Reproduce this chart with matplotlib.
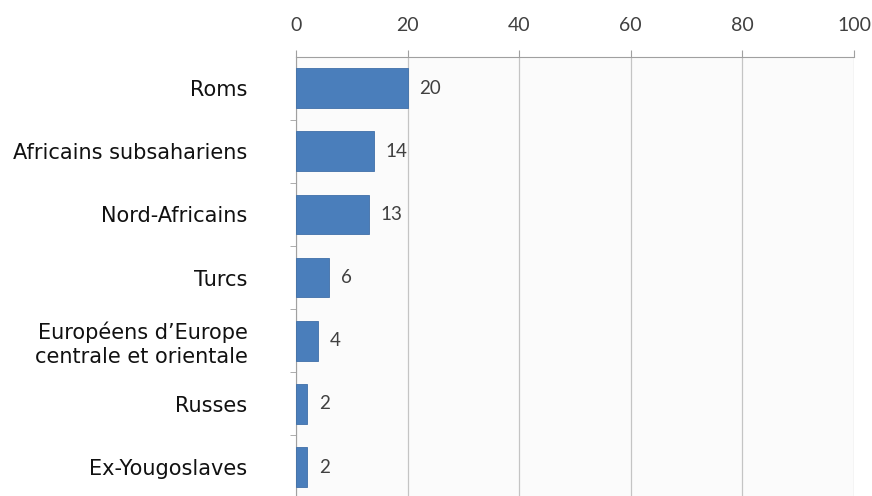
import matplotlib.pyplot as plt
import numpy as np

categories = ["Roms", "Africains subsahariens", "Nord-Africains", "Turcs",
              "Européens d’Europe\ncentrale et orientale", "Russes", "Ex-Yougoslaves"]
values = [20, 14, 13, 6, 4, 2, 2]
xticks = [0, 20, 40, 60, 80, 100]

fig = plt.figure(figsize=(8.72, 4.96), dpi=100)
ax = fig.add_axes([296 / 872, -2.6 / 496, 558 / 872, 442 / 496])
ax.set_facecolor("#fbfbfb")

y = np.arange(len(categories))
ax.barh(y, values, height=0.63, color="#4a7ebb", edgecolor="#3f6fa8", linewidth=0.6, zorder=3)
for yi, v in zip(y, values):
    ax.text(v + 2.1, yi, str(v), va="center", ha="left", fontsize=13.5,
            color="#404040", family="Lato")

ax.set_xlim(0, 100)
ax.set_ylim(len(categories) - 0.5, -0.5)
ax.xaxis.tick_top()
ax.set_xticks(xticks)
ax.set_xticklabels([str(t) for t in xticks], fontsize=14, color="#404040", family="Lato")
ax.tick_params(axis="x", length=5, color="#a0a0a0", pad=11)
ax.grid(axis="x", color="#c4c4c4", linewidth=0.9, zorder=0)

ax.set_yticks(y)
ax.set_yticklabels(categories, fontsize=15, color="#111111")
ax.set_yticks(y[:-1] + 0.5, minor=True)
ax.tick_params(axis="y", which="major", length=0, pad=35)
ax.tick_params(axis="y", which="minor", length=4, color="#a0a0a0")

for s in ["right", "bottom"]:
    ax.spines[s].set_visible(False)
ax.spines["top"].set_color("#a0a0a0")
ax.spines["left"].set_color("#a0a0a0")

fig.savefig("out.png", dpi=100)
